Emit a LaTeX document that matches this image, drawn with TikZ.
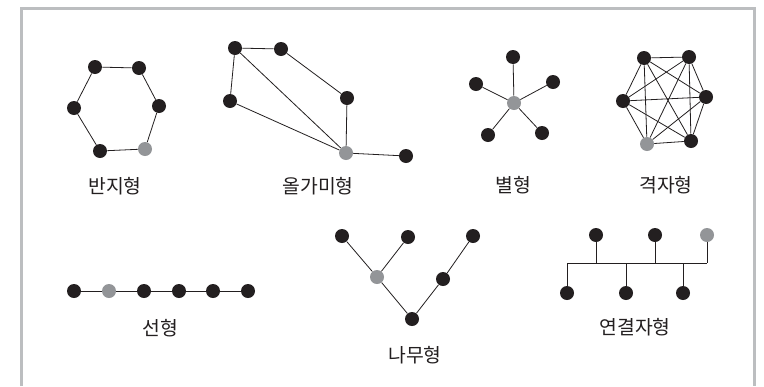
\documentclass[tikz,border=0pt]{standalone}
\usepackage{fontspec}
\newfontfamily\kr{Noto Sans CJK KR}
\definecolor{nodeblack}{HTML}{231F20}
\definecolor{nodegray}{HTML}{939598}
\definecolor{framegray}{HTML}{BCBEC0}
\definecolor{linec}{HTML}{231F20}
\begin{document}
\begin{tikzpicture}[x=0.75pt,y=-0.75pt,
  bn/.style={circle,fill=nodeblack,inner sep=0pt,minimum size=10.5pt},
  gn/.style={circle,fill=nodegray,inner sep=0pt,minimum size=10.5pt},
  lbl/.style={font=\kr\fontsize{14.5pt}{17pt}\selectfont,text=nodeblack,inner sep=0pt},
  edge/.style={draw=linec,line width=0.6pt}]
\useasboundingbox (0,0) rectangle (764,386);
\fill[white] (0,0) rectangle (764,386);
\draw[framegray,line width=2.25pt] (21,386) -- (21,8) -- (754,8) -- (754,386);

% ring
\node[bn] (r1) at (95,67) {};
\node[bn] (r2) at (139,68) {};
\node[bn] (r3) at (159,106) {};
\node[gn] (r4) at (145,149) {};
\node[bn] (r5) at (100,151) {};
\node[bn] (r6) at (74,108) {};
\draw[edge] (r1)--(r2)--(r3)--(r4)--(r5)--(r6)--(r1);
\node[lbl] (lr) at (115,186) {반지형};

% lasso
\node[bn] (m1) at (235,48) {};
\node[bn] (m2) at (281,49) {};
\node[bn] (m3) at (347,98) {};
\node[bn] (m4) at (230,101) {};
\node[gn] (m5) at (346,153) {};
\node[bn] (m6) at (406,156) {};
\draw[edge] (m1)--(m2) (m2)--(m3) (m3)--(m5) (m1)--(m4) (m4)--(m5) (m1)--(m5) (m5)--(m6);
\node[lbl] (lm) at (318,186) {올가미형};

% star
\node[gn] (s0) at (514,103) {};
\node[bn] (s1) at (513,57) {};
\node[bn] (s2) at (476,84) {};
\node[bn] (s3) at (553,82) {};
\node[bn] (s4) at (488,135) {};
\node[bn] (s5) at (542,133) {};
\foreach \i in {1,...,5} \draw[edge] (s0)--(s\i);
\node[lbl] (ls) at (513,185) {별형};

% complete
\node[bn] (c1) at (644,58) {};
\node[bn] (c2) at (689,57) {};
\node[bn] (c3) at (706,97) {};
\node[bn] (c4) at (691,141) {};
\node[gn] (c5) at (647,144) {};
\node[bn] (c6) at (623,101) {};
\foreach \i in {1,...,6}{\foreach \j in {1,...,6}{\ifnum\i<\j \draw[edge] (c\i)--(c\j);\fi}}
\node[lbl] (lc) at (666,185) {격자형};

% line
\node[bn] (l1) at (74,291) {};
\node[gn] (l2) at (109,291) {};
\node[bn] (l3) at (144,291) {};
\node[bn] (l4) at (179,291) {};
\node[bn] (l5) at (213,291) {};
\node[bn] (l6) at (248,291) {};
\draw[edge] (l1)--(l2)--(l3)--(l4)--(l5)--(l6);
\node[lbl] (ll) at (160,328) {선형};

% tree
\node[bn] (t1) at (342,236) {};
\node[gn] (t2) at (377,277) {};
\node[bn] (t3) at (408,237) {};
\node[bn] (t4) at (473,236) {};
\node[bn] (t5) at (443,279) {};
\node[bn] (t6) at (412,319) {};
\draw[edge] (t1)--(t2) (t3)--(t2) (t2)--(t6) (t6)--(t5) (t5)--(t4);
\node[lbl] (lt) at (415,355) {나무형};

% bus
\node[bn] (b1) at (596,235) {};
\node[bn] (b2) at (655,235) {};
\node[gn] (b3) at (707,235) {};
\node[bn] (b4) at (567,293) {};
\node[bn] (b5) at (626,293) {};
\node[bn] (b6) at (683,293) {};
\coordinate (bl) at (567,263);
\coordinate (br) at (707,263);
\draw[edge] (bl)--(br);
\draw[edge] (b1) -- (b1 |- bl);
\draw[edge] (b2) -- (b2 |- bl);
\draw[edge] (b3) -- (br);
\draw[edge] (b4) -- (bl);
\draw[edge] (b5) -- (b5 |- bl);
\draw[edge] (b6) -- (b6 |- bl);
\node[lbl] (lb) at (635,327) {연결자형};
\end{tikzpicture}
\end{document}
